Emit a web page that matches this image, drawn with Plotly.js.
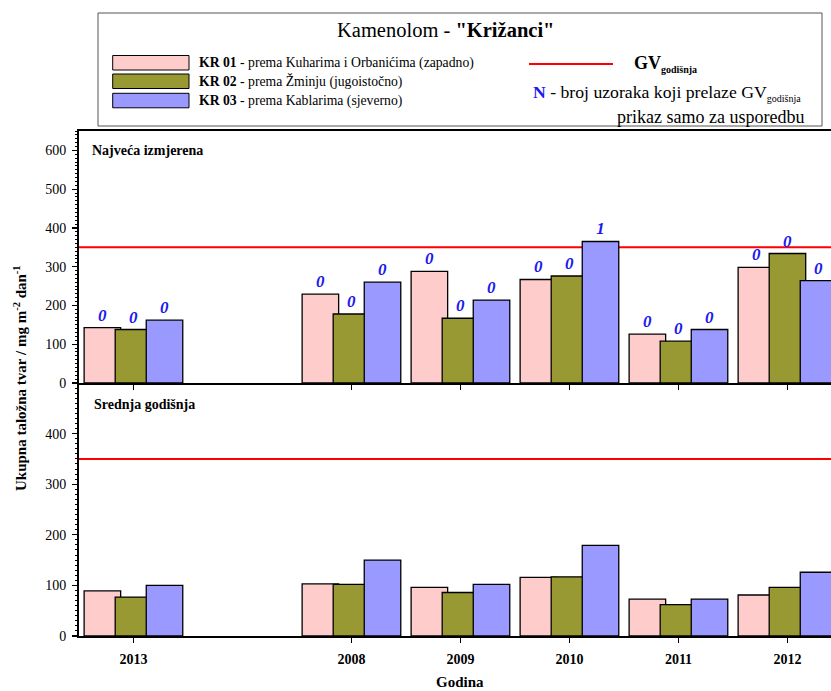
<!DOCTYPE html>
<html>
<head>
<meta charset="utf-8">
<script src="https://cdn.plot.ly/plotly-3.0.1.min.js"></script>
<style>
html,body{margin:0;padding:0;overflow:hidden;background:#fff;}
#chart{width:852px;height:691px;}
</style>
</head>
<body>
<div id="chart"></div>
<script>
// ---- data ----
const categories = ['2013', '', '2008', '2009', '2010', '2011', '2012'];
const seriesNames = ['KR 01', 'KR 02', 'KR 03'];
const seriesDesc = ['prema Kuharima i Orbanićima (zapadno)', 'prema Žminju (jugoistočno)', 'prema Kablarima (sjeverno)'];
const seriesColors = ['#FFCCCC', '#999933', '#9999FF'];

// Najveća izmjerena (top panel)
const maxKR01 = [143, null, 229, 288, 267, 126, 298];
const maxKR02 = [138, null, 178, 167, 276, 108, 334];
const maxKR03 = [162, null, 260, 214, 365, 138, 264];
// N - broj uzoraka koji prelaze GV
const nKR01 = [0, null, 0, 0, 0, 0, 0];
const nKR02 = [0, null, 0, 0, 0, 0, 0];
const nKR03 = [0, null, 0, 0, 1, 0, 0];

// Srednja godišnja (bottom panel)
const meanKR01 = [89, null, 103, 96, 116, 73, 81];
const meanKR02 = [77, null, 102, 86, 117, 62, 96];
const meanKR03 = [100, null, 150, 102, 179, 73, 126];

const GV = 350;
const yTicksTop = [0, 100, 200, 300, 400, 500, 600];
const yTicksBottom = [0, 100, 200, 300, 400];

// ---- layout helpers ----
const ML = 79, MT = 131, PW = 763, PH = 505, MB = 55;
const W = ML + PW + 10, H = MT + PH + MB;
const px = v => (v - ML) / PW;
const py = v => (MT + PH - v) / PH;
const splitY = 253 / 505;

const xIdx = categories.map((c, i) => i);
const tickIdx = xIdx.filter(i => categories[i] !== '');
const tickTxt = tickIdx.map(i => categories[i]);

const offsets = [-0.453, -0.168, 0.117];
const barW = 0.335;
const serif = '"Liberation Serif", "Times New Roman", serif';

const maxVals = [maxKR01, maxKR02, maxKR03];
const nVals = [nKR01, nKR02, nKR03];
const meanVals = [meanKR01, meanKR02, meanKR03];

const traces = [];
for (let s = 0; s < 3; s++) {
  traces.push({
    type: 'bar', x: xIdx, y: maxVals[s], xaxis: 'x2', yaxis: 'y2',
    width: barW, offset: offsets[s],
    marker: {color: seriesColors[s], line: {color: '#000', width: 1.3}},
    text: nVals[s].map(v => v === null ? '' : String(v)),
    textposition: 'outside', cliponaxis: false, constraintext: 'none',
    textfont: {family: serif, size: 17, color: '#1a1aee', weight: 'bold', style: 'italic'},
    showlegend: false, hoverinfo: 'skip'
  });
}
for (let s = 0; s < 3; s++) {
  traces.push({
    type: 'bar', x: xIdx, y: meanVals[s], xaxis: 'x', yaxis: 'y',
    width: barW, offset: offsets[s],
    marker: {color: seriesColors[s], line: {color: '#000', width: 1.3}},
    showlegend: false, hoverinfo: 'skip'
  });
}

const axisCommon = {
  showline: true, linecolor: '#000', linewidth: 2,
  ticks: 'outside', ticklen: 5, tickwidth: 1.3, tickcolor: '#000',
  showgrid: false, zeroline: false, fixedrange: true
};

const shapes = [
  {type: 'line', xref: 'paper', yref: 'y2', x0: 0, x1: 1, y0: GV, y1: GV, line: {color: '#FF0000', width: 2}, layer: 'below'},
  {type: 'line', xref: 'paper', yref: 'y', x0: 0, x1: 1, y0: GV, y1: GV, line: {color: '#FF0000', width: 2}, layer: 'below'},
  // legend box
  {type: 'rect', xref: 'paper', yref: 'paper', x0: px(98), x1: px(822), y0: py(13), y1: py(126), line: {color: '#555', width: 1}, fillcolor: 'rgba(0,0,0,0)'},
  // GV legend line
  {type: 'line', xref: 'paper', yref: 'paper', x0: px(529), x1: px(613), y0: py(64), y1: py(64), line: {color: '#FF0000', width: 2}}
];
const swTop = [55.5, 74, 93.3];
for (let s = 0; s < 3; s++) {
  shapes.push({type: 'rect', xref: 'paper', yref: 'paper', x0: px(112.7), x1: px(189), y0: py(swTop[s]), y1: py(swTop[s] + 14.5),
    line: {color: '#000', width: 1}, fillcolor: seriesColors[s]});
}

const ann = [];
function addText(text, x, y, opts) {
  ann.push(Object.assign({text: text, xref: 'paper', yref: 'paper', x: px(x), y: py(y), showarrow: false,
    xanchor: 'left', yanchor: 'middle', font: {family: serif, size: 13, color: '#000'}}, opts || {}));
}
addText('Kamenolom - <b>"Križanci"</b>', 445, 30, {xanchor: 'center', font: {family: serif, size: 20.5, color: '#000'}});
for (let s = 0; s < 3; s++) {
  addText('<b>' + seriesNames[s] + '</b> - ' + seriesDesc[s], 197, swTop[s] + 7.5, {font: {family: serif, size: 13.7, color: '#000'}});
}
addText('<b>GV</b><sub><b><span style="font-size:10px">godišnja</span></b></sub>', 632, 64, {font: {family: serif, size: 18, color: '#000'}});
addText('<b><span style="color:#1a1aee">N</span></b> - broj uzoraka koji prelaze GV<sub><span style="font-size:10px">godišnja</span></sub>', 531, 93, {font: {family: serif, size: 17.7, color: '#000'}});
addText('prikaz samo za usporedbu', 806, 117, {xanchor: 'right', font: {family: serif, size: 18, color: '#000'}});
addText('<b>Najveća izmjerena</b>', 90, 150, {font: {family: serif, size: 14, color: '#000'}});
addText('<b>Srednja godišnja</b>', 92, 404, {font: {family: serif, size: 14, color: '#000'}});
addText('<b>Ukupna taložna tvar / mg m<sup>-2</sup> dan<sup>-1</sup></b>', 20, 378, {xanchor: 'center', textangle: -90, font: {family: serif, size: 15, color: '#000'}});
addText('<b>Godina</b>', 460, 682, {xanchor: 'center', font: {family: serif, size: 15, color: '#000'}});

const layout = {
  width: W, height: H,
  margin: {l: ML, r: W - ML - PW, t: MT, b: MB, pad: 0},
  paper_bgcolor: '#fff', plot_bgcolor: '#fff',
  barmode: 'overlay', showlegend: false,
  font: {family: serif, color: '#000', size: 13},
  xaxis: Object.assign({}, axisCommon, {
    anchor: 'y', domain: [0, 1], range: [-0.5, 6.5],
    tickmode: 'array', tickvals: tickIdx, ticktext: tickTxt,
    tickfont: {family: serif, size: 14, color: '#000', weight: 'bold'}, ticklabelstandoff: 4
  }),
  xaxis2: Object.assign({}, axisCommon, {
    anchor: 'y2', matches: 'x', domain: [0, 1], range: [-0.5, 6.5],
    tickmode: 'array', tickvals: tickIdx, showticklabels: false, mirror: true
  }),
  yaxis: Object.assign({}, axisCommon, {
    anchor: 'x', domain: [0, splitY], range: [0, 500],
    tickmode: 'array', tickvals: yTicksBottom,
    tickfont: {family: serif, size: 14, color: '#000'}, ticklabelstandoff: 3,
    minor: {ticks: 'outside', dtick: 10, ticklen: 2, tickwidth: 1, tickcolor: '#000'}
  }),
  yaxis2: Object.assign({}, axisCommon, {
    anchor: 'x2', domain: [splitY, 1], range: [0, 650],
    tickmode: 'array', tickvals: yTicksTop,
    tickfont: {family: serif, size: 14, color: '#000'}, ticklabelstandoff: 3,
    minor: {ticks: 'outside', dtick: 10, ticklen: 2, tickwidth: 1, tickcolor: '#000'}
  }),
  shapes: shapes,
  annotations: ann
};

Plotly.newPlot('chart', traces, layout, {displayModeBar: false, staticPlot: true});
</script>
</body>
</html>
